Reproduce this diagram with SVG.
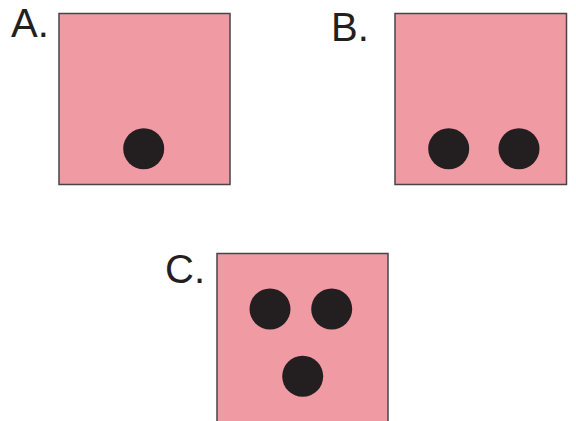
<svg xmlns="http://www.w3.org/2000/svg" width="576" height="421" viewBox="0 0 576 421">
<style>
.box{fill:#f09aa3;stroke:#4a4446;stroke-width:1.5}
.dot{fill:#231f20}
.lbl{font-family:"Liberation Sans",Arial,sans-serif;font-size:40px;fill:#231f20}
</style>
<rect width="576" height="421" fill="#ffffff"/>
<g id="A">
<text class="lbl" x="11" y="37">A.</text>
<rect class="box" x="59" y="13.5" width="171" height="171"/>
<circle class="dot" cx="143.7" cy="148.7" r="20.5"/>
</g>
<g id="B">
<text class="lbl" x="331" y="41">B.</text>
<rect class="box" x="395" y="13.5" width="171.5" height="171"/>
<circle class="dot" cx="448.7" cy="148.7" r="20.5"/>
<circle class="dot" cx="519" cy="148.7" r="20.5"/>
</g>
<g id="C">
<text class="lbl" x="165" y="283">C.</text>
<rect class="box" x="217" y="253.5" width="171" height="171"/>
<circle class="dot" cx="270" cy="309" r="20.5"/>
<circle class="dot" cx="331.7" cy="309" r="20.5"/>
<circle class="dot" cx="302.7" cy="376.3" r="20.5"/>
</g>
</svg>
